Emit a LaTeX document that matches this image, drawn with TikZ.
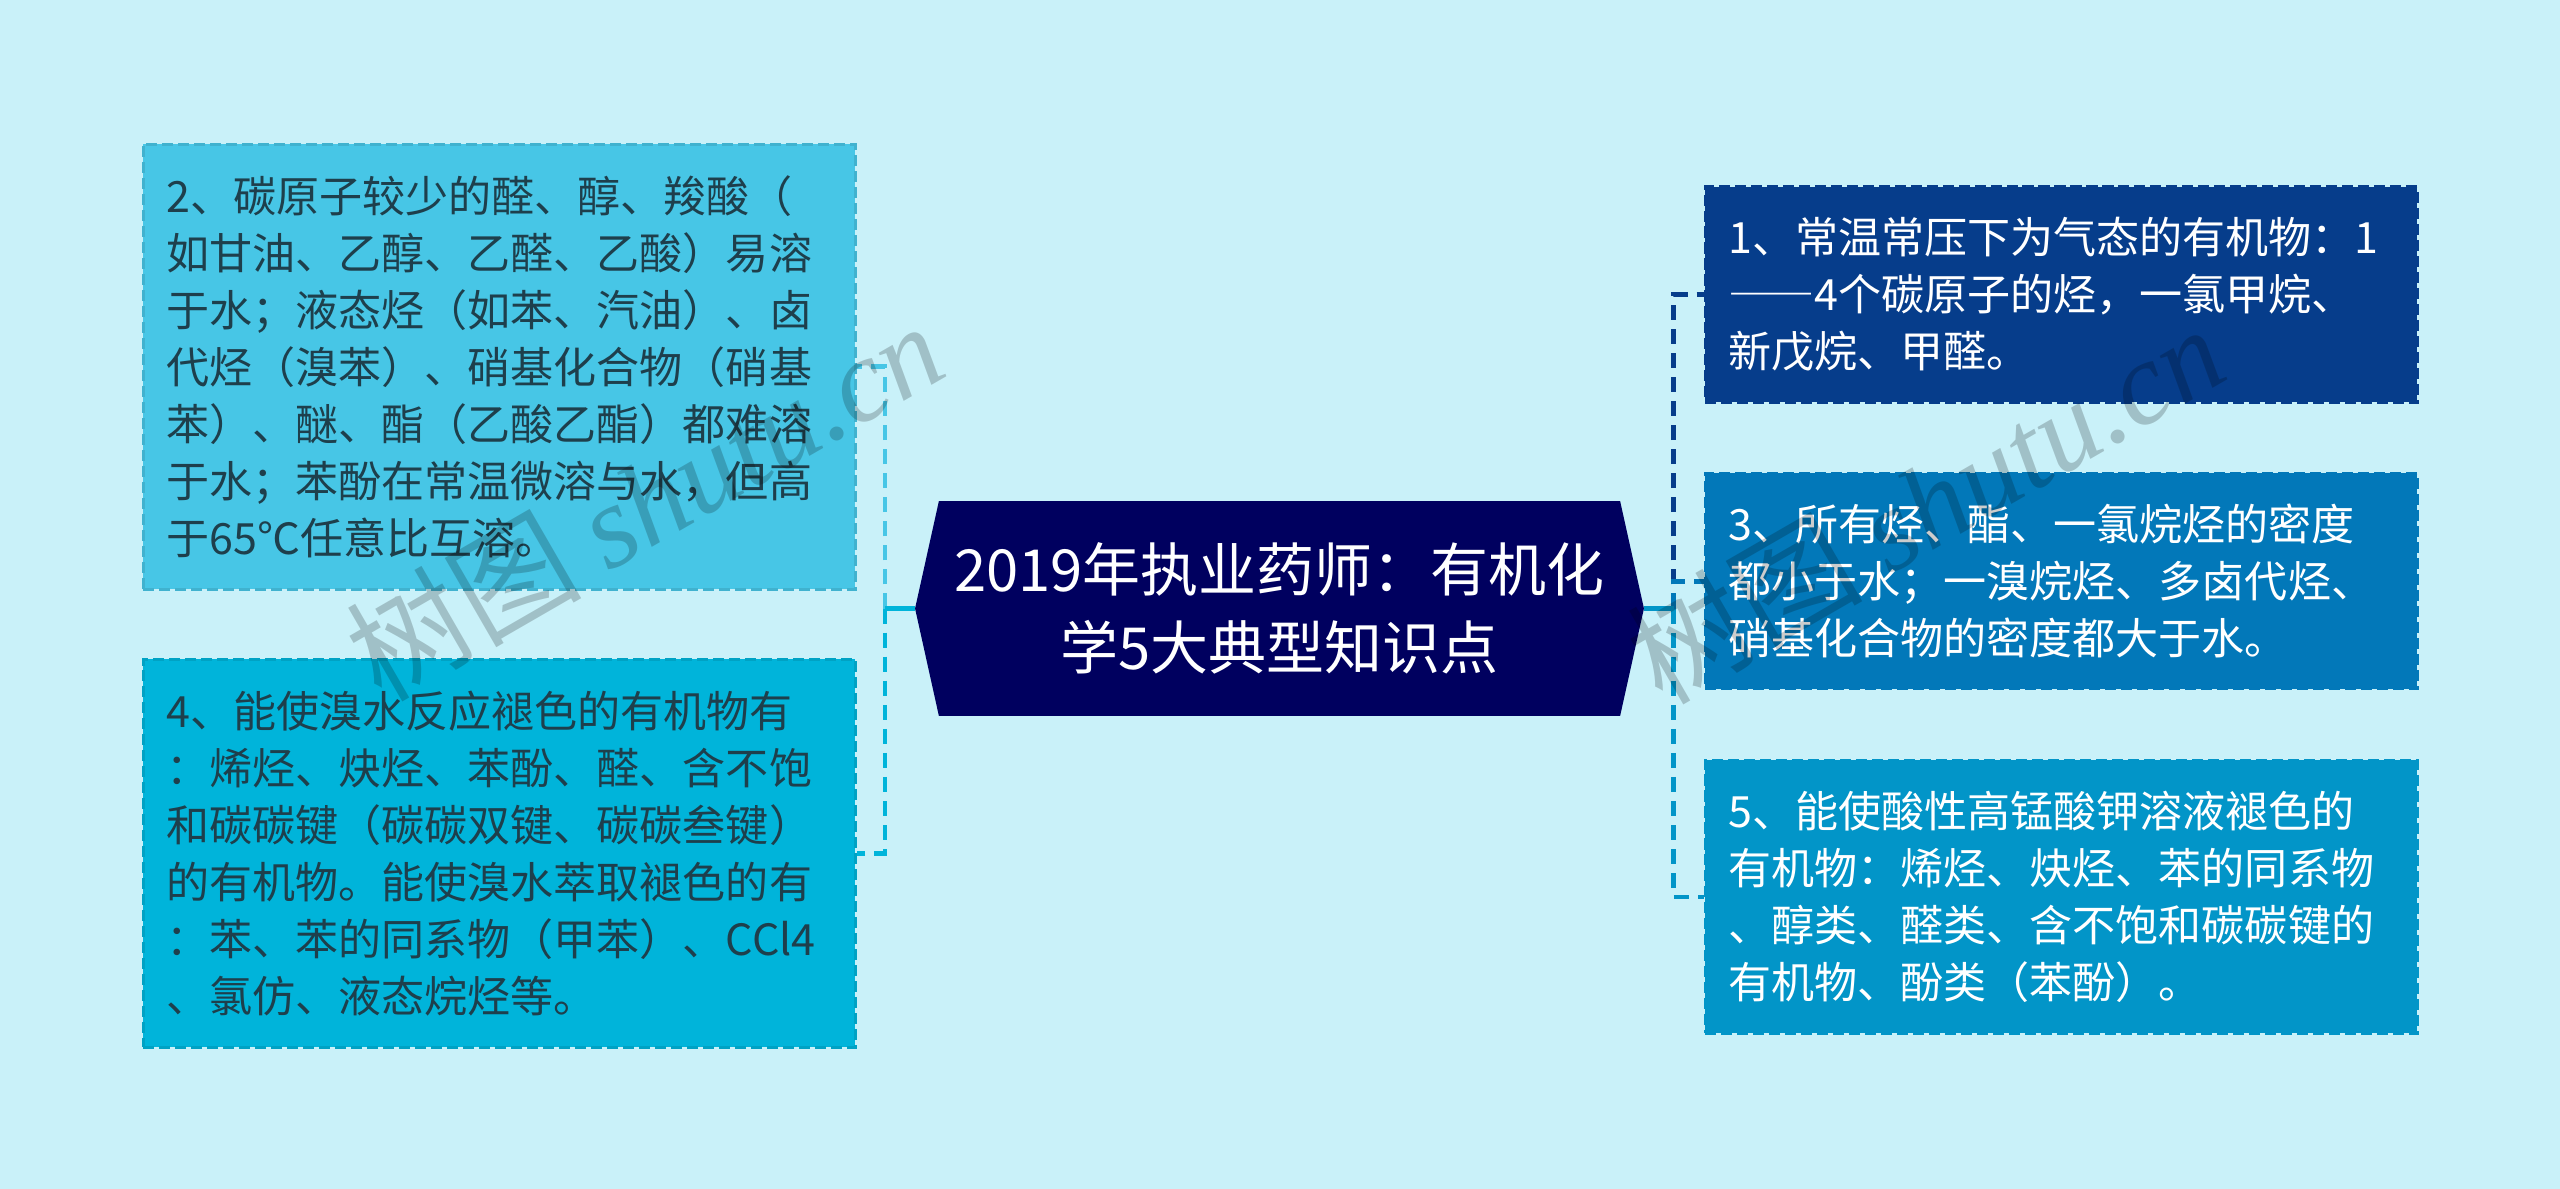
\documentclass[tikz,border=0pt]{standalone}
\usepackage{xcolor}
\usepackage{fontspec}
\setmainfont{Noto Sans CJK SC}
\newfontfamily\markfont{Liberation Serif}
\newfontfamily\dashfont{Noto Sans CJK SC}[RawFeature=+fwid]
\usetikzlibrary{shapes.symbols}
\definecolor{bgc}{HTML}{C9F1F9}
\definecolor{rootc}{HTML}{00005F}
\definecolor{twoc}{HTML}{47C6E6}
\definecolor{fourc}{HTML}{00B4DA}
\definecolor{onec}{HTML}{063D8B}
\definecolor{threec}{HTML}{0278B9}
\definecolor{fivec}{HTML}{0295C8}
\definecolor{inkc}{HTML}{1E3F4C}
\tikzset{
    subnode/.style = {rectangle, anchor=north west, align=left, inner xsep=0.46cm, inner ysep=0pt, text width=13.32cm, minimum width=14.24cm, dash pattern=on 6.3pt off 2.8pt, line width=1.6pt, font=\fontsize{24.5}{32.4}\selectfont},
    rootnode/.style = {signal, signal to=west and east, signal pointer angle=155, fill=rootc, text=white, align=center, inner sep=0pt, minimum width=14.58cm, minimum height=4.3cm, font=\fontsize{33}{44.4}\selectfont},
    link/.style = {line width=2.7pt, dash pattern=on 8.6pt off 5.1pt},
    stub/.style = {line width=2.7pt},
    markn/.style = {rotate=30, text=black, text opacity=0.2, font=\fontsize{67}{67}\selectfont}
}
\begin{document}
\begin{tikzpicture}[x=0.02cm,y=-0.02cm]
\fill[bgc] (0,0) rectangle (2560,1189);
\node[rootnode] at (1279.5,608.5) (root) {2019年执业药师：有机化\\学5大典型知识点};
\coordinate (lj) at (885,608.5);
\coordinate (rj) at (1673.5,608.5);
%
\node[subnode,fill=twoc,draw=twoc!90!black,text=inkc,minimum height=8.9cm] at (142,143) (two) {2、碳原子较少的醛、醇、羧酸（\\如甘油、乙醇、乙醛、乙酸）易溶\\于水；液态烃（如苯、汽油）、卤\\代烃（溴苯）、硝基化合物（硝基\\苯）、醚、酯（乙酸乙酯）都难溶\\于水；苯酚在常温微溶与水，但高\\于65℃任意比互溶。};
\node[subnode,fill=fourc,draw=fourc!90!black,text=inkc,minimum height=7.76cm] at (142,658) (four) {4、能使溴水反应褪色的有机物有\\：烯烃、炔烃、苯酚、醛、含不饱\\和碳碳键（碳碳双键、碳碳叁键）\\的有机物。能使溴水萃取褪色的有\\：苯、苯的同系物（甲苯）、CCl4\\、氯仿、液态烷烃等。};
\node[subnode,fill=onec,draw=onec,text=white,minimum height=4.31cm] at (1704,185.5) (one) {1、常温常压下为气态的有机物：1\\{\dashfont ——}4个碳原子的烃，一氯甲烷、\\新戊烷、甲醛。};
\node[subnode,fill=threec,draw=threec,text=white,minimum height=4.31cm] at (1704,472) (three) {3、所有烃、酯、一氯烷烃的密度\\都小于水；一溴烷烃、多卤代烃、\\硝基化合物的密度都大于水。};
\node[subnode,fill=fivec,draw=fivec,text=white,minimum height=5.46cm] at (1704,759) (five) {5、能使酸性高锰酸钾溶液褪色的\\有机物：烯烃、炔烃、苯的同系物\\、醇类、醛类、含不饱和碳碳键的\\有机物、酚类（苯酚）。};
%
\draw[link,twoc] (lj) |- (two.east);
\draw[link,fourc] (lj) |- (four.east);
\draw[link,onec] (rj) |- (one.west);
\draw[link,threec] (rj) |- (three.west);
\draw[link,fivec] (rj) |- (five.west);
\draw[stub,fourc] (root.west) -- (lj);
\draw[stub,fivec] (root.east) -- (rj);
%
\node[markn] at (644,500) (markl) {树图 {\markfont\itshape shutu.cn}};
\node[markn] at (1925,503) (markr) {树图 {\markfont\itshape shutu.cn}};
\end{tikzpicture}
\end{document}
